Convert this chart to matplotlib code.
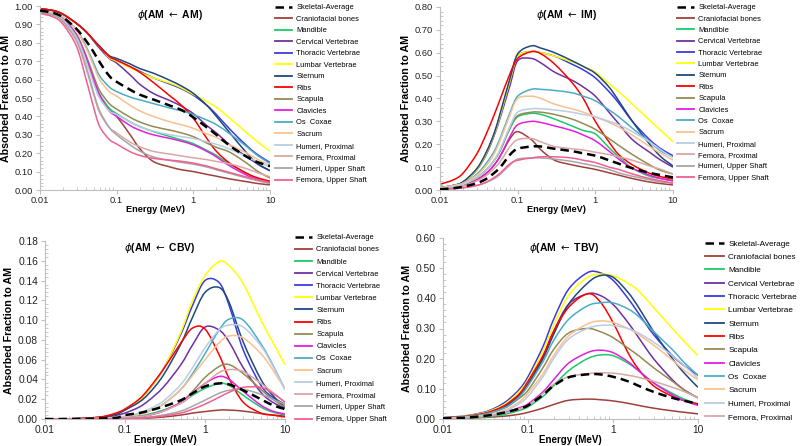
import matplotlib
matplotlib.use("Agg")
import numpy as np
import matplotlib.pyplot as plt
from matplotlib.path import Path
from matplotlib.patches import PathPatch
from matplotlib.lines import Line2D
from matplotlib.ticker import MultipleLocator, FormatStrFormatter, FixedLocator, LogLocator, NullFormatter

plt.rcParams['font.family'] = ['Liberation Sans', 'DejaVu Sans']

energy = [0.01, 0.015, 0.02, 0.03, 0.04, 0.05, 0.06, 0.08, 0.1, 0.15, 0.2,
          0.3, 0.5, 0.7, 1, 1.5, 2, 3, 5, 7, 10]

series = ["Skeletal-Average", "Craniofacial bones", "Mandible", "Cervical Vertebrae",
          "Thoracic Vertebrae", "Lumbar Vertebrae", "Sternum", "Ribs", "Scapula",
          "Clavicles", "Os  Coxae", "Sacrum", "Humeri, Proximal", "Femora, Proximal",
          "Humeri, Upper Shaft", "Femora, Upper Shaft"]

colors = ["black", "#a0403c", "#1ec86a", "#7030a0", "#3a3ae0", "#ffff00", "#1f497d",
          "#ff0000", "#948a54", "#e020e0", "#4bacc6", "#fac090", "#b9cde5", "#dba6a6",
          "#a6a6a6", "#f06090"]

# phi(AM <- AM), rows follow `series`
am_am = [
    [0.975, 0.962, 0.938, 0.875, 0.81, 0.75, 0.695, 0.62, 0.588, 0.545, 0.518, 0.492, 0.458, 0.435, 0.395, 0.34, 0.30, 0.24, 0.18, 0.15, 0.13],
    [0.97, 0.955, 0.925, 0.835, 0.71, 0.59, 0.505, 0.435, 0.40, 0.30, 0.225, 0.155, 0.125, 0.11, 0.10, 0.085, 0.075, 0.06, 0.045, 0.035, 0.028],
    [0.97, 0.955, 0.93, 0.84, 0.72, 0.60, 0.52, 0.445, 0.415, 0.37, 0.345, 0.318, 0.29, 0.272, 0.252, 0.215, 0.188, 0.14, 0.09, 0.06, 0.04],
    [0.985, 0.975, 0.955, 0.905, 0.86, 0.81, 0.77, 0.715, 0.69, 0.625, 0.575, 0.525, 0.485, 0.455, 0.415, 0.35, 0.31, 0.245, 0.18, 0.14, 0.105],
    [0.985, 0.975, 0.955, 0.905, 0.86, 0.815, 0.78, 0.725, 0.705, 0.67, 0.645, 0.61, 0.575, 0.55, 0.515, 0.46, 0.41, 0.33, 0.24, 0.19, 0.15],
    [0.985, 0.975, 0.955, 0.905, 0.86, 0.815, 0.78, 0.72, 0.70, 0.665, 0.64, 0.61, 0.58, 0.555, 0.52, 0.48, 0.45, 0.39, 0.31, 0.26, 0.21],
    [0.985, 0.975, 0.955, 0.905, 0.86, 0.815, 0.78, 0.73, 0.715, 0.685, 0.66, 0.635, 0.595, 0.565, 0.525, 0.46, 0.40, 0.31, 0.20, 0.14, 0.105],
    [0.985, 0.975, 0.955, 0.905, 0.86, 0.815, 0.78, 0.725, 0.705, 0.67, 0.64, 0.585, 0.51, 0.46, 0.39, 0.28, 0.21, 0.145, 0.09, 0.065, 0.048],
    [0.97, 0.955, 0.93, 0.845, 0.73, 0.62, 0.54, 0.47, 0.44, 0.395, 0.37, 0.345, 0.325, 0.31, 0.29, 0.255, 0.232, 0.205, 0.145, 0.10, 0.065],
    [0.97, 0.955, 0.93, 0.84, 0.72, 0.60, 0.515, 0.43, 0.40, 0.35, 0.325, 0.30, 0.28, 0.265, 0.245, 0.21, 0.18, 0.13, 0.08, 0.055, 0.04],
    [0.975, 0.962, 0.94, 0.87, 0.78, 0.69, 0.62, 0.56, 0.535, 0.505, 0.49, 0.47, 0.445, 0.43, 0.41, 0.38, 0.355, 0.305, 0.235, 0.185, 0.145],
    [0.975, 0.96, 0.94, 0.865, 0.77, 0.675, 0.60, 0.535, 0.51, 0.46, 0.43, 0.40, 0.37, 0.355, 0.335, 0.305, 0.285, 0.245, 0.20, 0.165, 0.135],
    [0.97, 0.955, 0.925, 0.83, 0.70, 0.58, 0.50, 0.43, 0.41, 0.37, 0.345, 0.32, 0.30, 0.29, 0.28, 0.262, 0.248, 0.222, 0.18, 0.152, 0.125],
    [0.965, 0.95, 0.915, 0.81, 0.66, 0.52, 0.42, 0.34, 0.31, 0.26, 0.235, 0.21, 0.195, 0.185, 0.175, 0.165, 0.155, 0.142, 0.115, 0.093, 0.072],
    [0.965, 0.95, 0.915, 0.81, 0.67, 0.53, 0.43, 0.34, 0.30, 0.245, 0.212, 0.18, 0.16, 0.15, 0.14, 0.125, 0.11, 0.09, 0.065, 0.05, 0.035],
    [0.96, 0.94, 0.90, 0.78, 0.60, 0.45, 0.345, 0.275, 0.25, 0.208, 0.188, 0.172, 0.162, 0.156, 0.146, 0.13, 0.115, 0.095, 0.07, 0.055, 0.04],
]

# phi(AM <- IM)
am_im = [
    [0.003, 0.008, 0.015, 0.03, 0.05, 0.075, 0.10, 0.155, 0.18, 0.19, 0.19, 0.18, 0.17, 0.16, 0.15, 0.13, 0.115, 0.095, 0.075, 0.065, 0.055],
    [0.005, 0.01, 0.02, 0.045, 0.075, 0.11, 0.15, 0.225, 0.255, 0.22, 0.175, 0.13, 0.11, 0.10, 0.09, 0.075, 0.065, 0.05, 0.035, 0.028, 0.022],
    [0.008, 0.015, 0.025, 0.055, 0.09, 0.13, 0.175, 0.27, 0.32, 0.335, 0.33, 0.31, 0.28, 0.26, 0.245, 0.185, 0.145, 0.095, 0.06, 0.05, 0.04],
    [0.01, 0.02, 0.035, 0.09, 0.16, 0.24, 0.32, 0.46, 0.565, 0.575, 0.555, 0.515, 0.48, 0.45, 0.41, 0.34, 0.29, 0.22, 0.165, 0.13, 0.10],
    [0.01, 0.02, 0.035, 0.09, 0.165, 0.245, 0.33, 0.48, 0.585, 0.605, 0.60, 0.585, 0.55, 0.525, 0.49, 0.43, 0.38, 0.30, 0.22, 0.18, 0.15],
    [0.01, 0.02, 0.035, 0.09, 0.165, 0.245, 0.33, 0.48, 0.585, 0.605, 0.60, 0.585, 0.56, 0.54, 0.515, 0.465, 0.43, 0.375, 0.305, 0.26, 0.21],
    [0.01, 0.02, 0.037, 0.095, 0.17, 0.25, 0.34, 0.49, 0.595, 0.63, 0.62, 0.60, 0.565, 0.54, 0.51, 0.45, 0.39, 0.30, 0.20, 0.145, 0.105],
    [0.025, 0.045, 0.075, 0.16, 0.25, 0.33, 0.40, 0.51, 0.575, 0.605, 0.595, 0.55, 0.47, 0.40, 0.30, 0.21, 0.155, 0.11, 0.073, 0.058, 0.048],
    [0.008, 0.015, 0.025, 0.055, 0.09, 0.13, 0.175, 0.275, 0.325, 0.34, 0.34, 0.33, 0.31, 0.29, 0.265, 0.225, 0.195, 0.155, 0.11, 0.085, 0.07],
    [0.005, 0.01, 0.02, 0.045, 0.075, 0.11, 0.15, 0.235, 0.285, 0.30, 0.295, 0.28, 0.26, 0.24, 0.215, 0.17, 0.135, 0.095, 0.065, 0.05, 0.04],
    [0.01, 0.02, 0.03, 0.07, 0.12, 0.17, 0.23, 0.34, 0.41, 0.44, 0.44, 0.435, 0.425, 0.41, 0.39, 0.35, 0.32, 0.27, 0.21, 0.17, 0.145],
    [0.01, 0.02, 0.03, 0.065, 0.11, 0.16, 0.22, 0.33, 0.40, 0.41, 0.40, 0.375, 0.355, 0.34, 0.32, 0.295, 0.275, 0.24, 0.19, 0.16, 0.13],
    [0.008, 0.015, 0.025, 0.055, 0.09, 0.13, 0.18, 0.28, 0.34, 0.355, 0.355, 0.35, 0.34, 0.33, 0.32, 0.30, 0.285, 0.255, 0.21, 0.175, 0.14],
    [0.005, 0.01, 0.018, 0.04, 0.065, 0.095, 0.125, 0.19, 0.22, 0.225, 0.21, 0.19, 0.18, 0.175, 0.165, 0.155, 0.145, 0.13, 0.105, 0.09, 0.07],
    [0.003, 0.006, 0.01, 0.02, 0.035, 0.05, 0.07, 0.11, 0.135, 0.14, 0.14, 0.135, 0.125, 0.115, 0.105, 0.09, 0.075, 0.06, 0.045, 0.035, 0.03],
    [0.003, 0.006, 0.01, 0.02, 0.035, 0.055, 0.075, 0.115, 0.13, 0.14, 0.145, 0.145, 0.14, 0.13, 0.12, 0.10, 0.09, 0.07, 0.05, 0.04, 0.03],
]

# phi(AM <- CBV)
am_cbv = [
    [0, 0, 0.0001, 0.0002, 0.0004, 0.0006, 0.0008, 0.0013, 0.004, 0.006, 0.0085, 0.0125, 0.019, 0.026, 0.033, 0.036, 0.035, 0.029, 0.02, 0.014, 0.01],
    [0, 0, 0, 0.0001, 0.0001, 0.0002, 0.0002, 0.0003, 0.0004, 0.0007, 0.001, 0.002, 0.004, 0.006, 0.0075, 0.009, 0.009, 0.008, 0.0055, 0.004, 0.003],
    [0, 0, 0.0001, 0.0002, 0.0003, 0.0005, 0.0007, 0.001, 0.0015, 0.003, 0.005, 0.009, 0.016, 0.024, 0.031, 0.036, 0.034, 0.024, 0.012, 0.007, 0.004],
    [0, 0.0001, 0.0002, 0.0005, 0.001, 0.0015, 0.002, 0.004, 0.006, 0.012, 0.019, 0.032, 0.055, 0.075, 0.093, 0.09, 0.078, 0.052, 0.027, 0.017, 0.011],
    [0, 0.0001, 0.0002, 0.0006, 0.0012, 0.002, 0.003, 0.0055, 0.01, 0.019, 0.03, 0.05, 0.086, 0.115, 0.14, 0.138, 0.115, 0.07, 0.034, 0.022, 0.015],
    [0, 0.0001, 0.0002, 0.0006, 0.0012, 0.002, 0.003, 0.0055, 0.01, 0.019, 0.03, 0.05, 0.088, 0.12, 0.145, 0.159, 0.155, 0.137, 0.10, 0.078, 0.055],
    [0, 0.0001, 0.0002, 0.0005, 0.001, 0.0018, 0.0027, 0.005, 0.009, 0.017, 0.026, 0.044, 0.076, 0.103, 0.128, 0.133, 0.118, 0.078, 0.04, 0.024, 0.012],
    [0, 0.0001, 0.0002, 0.0006, 0.0013, 0.0022, 0.0033, 0.0065, 0.01, 0.02, 0.031, 0.05, 0.077, 0.092, 0.091, 0.065, 0.041, 0.017, 0.006, 0.004, 0.002],
    [0, 0, 0, 0.0001, 0.0002, 0.0003, 0.0005, 0.0008, 0.0012, 0.0025, 0.004, 0.008, 0.017, 0.028, 0.042, 0.053, 0.055, 0.046, 0.03, 0.02, 0.012],
    [0, 0, 0, 0.0001, 0.0002, 0.0003, 0.0004, 0.0007, 0.001, 0.002, 0.004, 0.008, 0.017, 0.026, 0.036, 0.043, 0.04, 0.028, 0.014, 0.008, 0.005],
    [0, 0, 0.0001, 0.0002, 0.0004, 0.0006, 0.0008, 0.0015, 0.0025, 0.005, 0.008, 0.015, 0.03, 0.046, 0.066, 0.09, 0.101, 0.10, 0.076, 0.055, 0.03],
    [0, 0, 0.0001, 0.0002, 0.0004, 0.0006, 0.0008, 0.0015, 0.0025, 0.005, 0.008, 0.015, 0.03, 0.044, 0.06, 0.077, 0.084, 0.082, 0.066, 0.05, 0.03],
    [0, 0, 0.0001, 0.0003, 0.0005, 0.0008, 0.001, 0.002, 0.003, 0.006, 0.01, 0.018, 0.035, 0.052, 0.072, 0.09, 0.095, 0.093, 0.074, 0.054, 0.03],
    [0, 0, 0, 0.0001, 0.0002, 0.0003, 0.0005, 0.0008, 0.0012, 0.0025, 0.004, 0.008, 0.016, 0.025, 0.036, 0.047, 0.05, 0.048, 0.036, 0.027, 0.017],
    [0, 0, 0, 0, 0.0001, 0.0001, 0.0002, 0.0003, 0.0005, 0.001, 0.002, 0.004, 0.008, 0.013, 0.019, 0.026, 0.029, 0.03, 0.025, 0.02, 0.015],
    [0, 0, 0, 0, 0.0001, 0.0001, 0.0002, 0.0003, 0.0004, 0.0008, 0.0015, 0.003, 0.006, 0.01, 0.015, 0.022, 0.027, 0.032, 0.032, 0.026, 0.017],
]

# phi(AM <- TBV), no upper shaft series in this panel
am_tbv = [
    [0.002, 0.003, 0.005, 0.01, 0.015, 0.02, 0.025, 0.035, 0.045, 0.08, 0.11, 0.138, 0.148, 0.148, 0.14, 0.125, 0.11, 0.09, 0.07, 0.06, 0.05],
    [0.001, 0.002, 0.003, 0.005, 0.007, 0.009, 0.011, 0.016, 0.022, 0.036, 0.048, 0.062, 0.066, 0.064, 0.06, 0.052, 0.045, 0.036, 0.027, 0.022, 0.017],
    [0.001, 0.002, 0.003, 0.006, 0.01, 0.014, 0.019, 0.029, 0.04, 0.075, 0.11, 0.16, 0.20, 0.212, 0.21, 0.185, 0.16, 0.12, 0.085, 0.065, 0.05],
    [0.004, 0.006, 0.009, 0.017, 0.027, 0.038, 0.05, 0.08, 0.115, 0.205, 0.29, 0.38, 0.415, 0.41, 0.38, 0.32, 0.27, 0.20, 0.13, 0.095, 0.07],
    [0.005, 0.008, 0.012, 0.022, 0.035, 0.05, 0.066, 0.10, 0.14, 0.24, 0.33, 0.43, 0.485, 0.485, 0.46, 0.40, 0.35, 0.28, 0.21, 0.175, 0.145],
    [0.004, 0.007, 0.011, 0.02, 0.032, 0.045, 0.06, 0.093, 0.13, 0.225, 0.31, 0.41, 0.47, 0.48, 0.475, 0.45, 0.425, 0.37, 0.30, 0.255, 0.21],
    [0.004, 0.006, 0.009, 0.017, 0.027, 0.038, 0.05, 0.08, 0.115, 0.20, 0.28, 0.38, 0.45, 0.475, 0.47, 0.42, 0.37, 0.29, 0.20, 0.15, 0.105],
    [0.004, 0.006, 0.01, 0.018, 0.029, 0.041, 0.055, 0.085, 0.125, 0.21, 0.29, 0.37, 0.415, 0.39, 0.32, 0.22, 0.165, 0.11, 0.075, 0.06, 0.05],
    [0.003, 0.005, 0.008, 0.015, 0.024, 0.034, 0.045, 0.07, 0.095, 0.17, 0.23, 0.285, 0.30, 0.29, 0.27, 0.235, 0.21, 0.17, 0.125, 0.095, 0.07],
    [0.002, 0.003, 0.005, 0.009, 0.014, 0.02, 0.026, 0.038, 0.05, 0.09, 0.13, 0.185, 0.22, 0.228, 0.22, 0.19, 0.16, 0.12, 0.08, 0.06, 0.045],
    [0.003, 0.005, 0.008, 0.015, 0.024, 0.034, 0.045, 0.075, 0.11, 0.19, 0.26, 0.33, 0.375, 0.385, 0.385, 0.365, 0.34, 0.29, 0.23, 0.185, 0.145],
    [0.003, 0.004, 0.006, 0.012, 0.019, 0.027, 0.036, 0.058, 0.085, 0.15, 0.21, 0.275, 0.315, 0.325, 0.32, 0.30, 0.28, 0.245, 0.195, 0.16, 0.13],
    [0.002, 0.004, 0.006, 0.011, 0.017, 0.024, 0.032, 0.052, 0.075, 0.14, 0.20, 0.265, 0.30, 0.31, 0.31, 0.30, 0.285, 0.255, 0.21, 0.175, 0.135],
    [0.001, 0.002, 0.004, 0.008, 0.013, 0.018, 0.023, 0.034, 0.045, 0.085, 0.115, 0.14, 0.15, 0.153, 0.152, 0.145, 0.138, 0.125, 0.105, 0.09, 0.07],
]

titles = [r"$\phi$(AM $\leftarrow$ AM)", r"$\phi$(AM $\leftarrow$ IM)",
          r"$\phi$(AM $\leftarrow$ CBV)", r"$\phi$(AM $\leftarrow$ TBV)"]


def smooth_path(xs, ys):
    # excel-style smoothed line: cubic bezier through the points, built in log-x space
    pts = np.column_stack([np.log10(xs), ys])
    n = len(pts)
    verts = [pts[0]]
    codes = [Path.MOVETO]
    for i in range(n - 1):
        p0 = pts[max(i - 1, 0)]
        p1 = pts[i]
        p2 = pts[i + 1]
        p3 = pts[min(i + 2, n - 1)]
        verts += [p1 + (p2 - p0) / 6, p2 - (p3 - p1) / 6, p2]
        codes += [Path.CURVE4] * 3
    verts = np.array(verts)
    verts[:, 0] = 10 ** verts[:, 0]
    return Path(verts, codes)


fig = plt.figure(figsize=(8, 4.46), dpi=100)

# axes boxes in pixels: left, right, top, bottom
boxes = [(40, 270, 6, 190), (440, 673, 7, 190), (45, 285, 241, 419), (443, 698, 238, 419)]
ymax = [1.0, 0.8, 0.18, 0.6]
ystep = [0.1, 0.1, 0.02, 0.1]
title_pos = [(0.565, 0.95), (0.545, 0.955), (0.48, 0.96), (0.475, 0.945)]
tick_size = [6.7, 6.7, 7.4, 7.4]
legend_x = [275, 677, 295, 705]
legend_top = [4, 4, 234, 240]
legend_gap = [0.57, 0.55, 0.65, 0.68]
legend_size = [5.4, 5.4, 5.4, 5.9]
panels = [am_am, am_im, am_cbv, am_tbv]
dash = (0, (3.4, 2.0))

for k, data in enumerate(panels):
    l, r, t, b = boxes[k]
    ax = fig.add_axes([l / 800, (446 - b) / 446, (r - l) / 800, (b - t) / 446])
    handles = []
    for i, vals in enumerate(data):
        if i == 0:
            ax.add_patch(PathPatch(smooth_path(energy, vals), fill=False, edgecolor="black",
                                   lw=1.8, ls=dash, zorder=5))
            handles.append(Line2D([], [], color="black", lw=1.8, ls=dash, label=series[i]))
        else:
            ax.add_patch(PathPatch(smooth_path(energy, vals), fill=False,
                                   edgecolor=colors[i], lw=1.1, zorder=2))
            handles.append(Line2D([], [], color=colors[i], lw=1.3, label=series[i]))

    ax.set_xscale("log")
    ax.set_xlim(0.01, 10)
    ax.set_ylim(0, ymax[k])
    ax.xaxis.set_major_locator(FixedLocator([0.01, 0.1, 1, 10]))
    ax.set_xticklabels(["0.01", "0.1", "1", "10"])
    ax.xaxis.set_minor_locator(LogLocator(base=10, subs=range(2, 10)))
    ax.xaxis.set_minor_formatter(NullFormatter())
    ax.yaxis.set_major_locator(MultipleLocator(ystep[k]))
    ax.yaxis.set_minor_locator(MultipleLocator(ystep[k] / 5))
    ax.yaxis.set_major_formatter(FormatStrFormatter("%.2f"))

    for s in ["top", "right"]:
        ax.spines[s].set_visible(False)
    for s in ["left", "bottom"]:
        ax.spines[s].set_color("#bfbfbf")
        ax.spines[s].set_linewidth(0.8)
    ax.tick_params(which="both", colors="#bfbfbf", labelcolor="#222222",
                   labelsize=tick_size[k], pad=2)
    ax.tick_params(axis="x", which="both", pad=1.5)
    ax.tick_params(which="major", length=3, direction="out")
    ax.tick_params(which="minor", length=2, direction="in")

    ax.set_ylabel("Absorbed Fraction to AM", fontsize=7.7, fontweight="bold", labelpad=3)
    ax.set_xlabel("Energy (MeV)", fontsize=6.6 if k < 2 else 7.0, fontweight="bold",
                  labelpad=0)
    ax.text(title_pos[k][0], title_pos[k][1], titles[k], transform=ax.transAxes,
            ha="center", va="center", fontsize=7.5, fontweight="bold")

    lx = (legend_x[k] - l) / (r - l)
    ly = (b - legend_top[k]) / (b - t)
    ax.legend(handles=handles, loc="upper left", bbox_to_anchor=(lx, ly),
              frameon=False, fontsize=legend_size[k], handlelength=2.3, handletextpad=0.55,
              labelspacing=legend_gap[k], borderpad=0, borderaxespad=0)

fig.savefig("out.png", dpi=100, facecolor="white")
